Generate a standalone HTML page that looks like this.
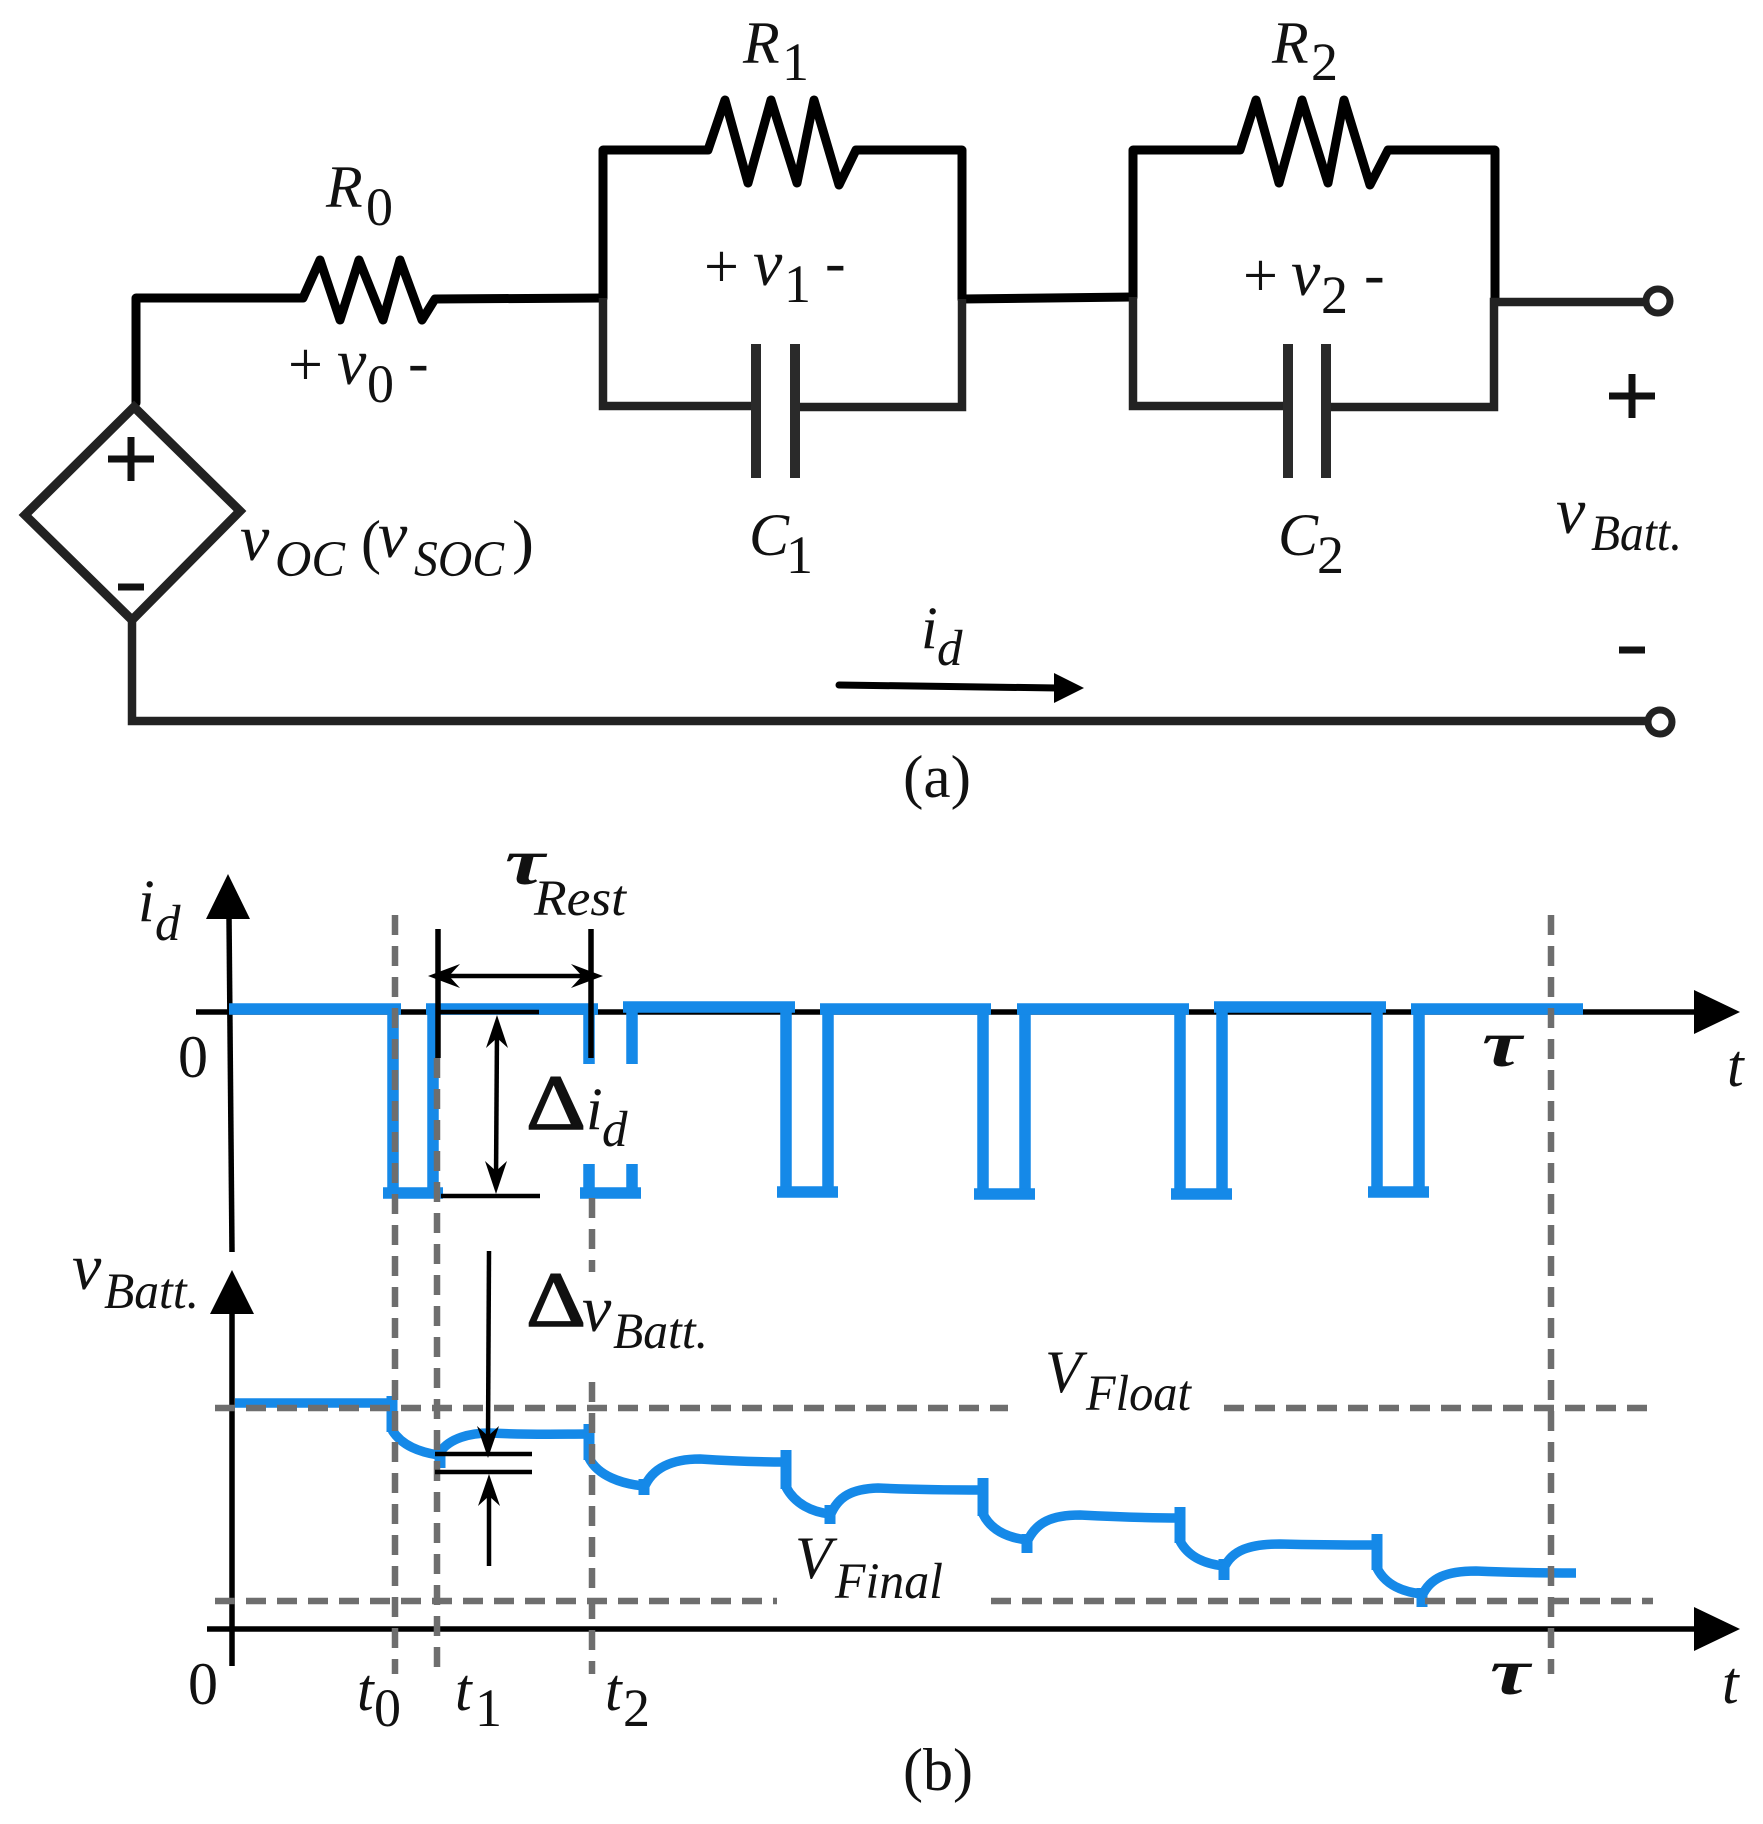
<!DOCTYPE html>
<html>
<head>
<meta charset="utf-8">
<style>
html,body{margin:0;padding:0;background:#fff}
svg{display:block}
text{font-family:"Liberation Serif",serif;fill:#111}
.i{font-style:italic}
.b{font-size:60px}
.vv{font-size:66px}
.p{font-size:62px}
.s{font-size:51px}
.n{font-size:54px}
.w{fill:none;stroke:#000;stroke-width:9;stroke-linejoin:round;stroke-linecap:round}
.d{fill:none;stroke:#222;stroke-width:8.5}
.blue{fill:none;stroke:#1589e8;stroke-width:11.5}
.v{fill:none;stroke:#1589e8;stroke-width:9.5}
.dash{fill:none;stroke:#6e6e6e;stroke-width:6.5;stroke-dasharray:20 11}
.k{fill:none;stroke:#000;stroke-width:5.5}
.t{fill:none;stroke:#000;stroke-width:4.5}
.D{font-size:78px;stroke:#111;stroke-width:1.5}
</style>
</head>
<body>
<svg width="1763" height="1824" viewBox="0 0 1763 1824" xmlns="http://www.w3.org/2000/svg">
<rect width="1763" height="1824" fill="#fff"/>

<!-- Circuit (a) -->
<polyline class="w" points="136,403 136,298 303,298 320,260 340,320 359,260 383,320 400,260 422,320 435,299 603,298"/>
<polyline class="w" points="603,298 603,150 708,150 725,100 748,183 771,100 797,183 814,100 839,185 856,150 962,150 962,299"/>
<polyline class="w" points="962,299 1133,297"/>
<polyline class="w" points="1133,297 1133,150 1240,150 1256,100 1279,183 1302,100 1328,183 1344,100 1370,185 1388,150 1495,150 1495,302"/>
<polyline class="d" points="603,298 603,406 752,406"/>
<polyline class="d" points="800,407 962,407 962,299"/>
<polyline class="d" points="1133,297 1133,406 1284,406"/>
<polyline class="d" points="1330,407 1494,407 1494,302 1646,302"/>
<g stroke="#2a2a2a" stroke-width="10" fill="none">
<line x1="756" y1="344" x2="756" y2="478"/>
<line x1="795" y1="344" x2="795" y2="478"/>
<line x1="1288" y1="344" x2="1288" y2="478"/>
<line x1="1326" y1="344" x2="1326" y2="478"/>
</g>
<circle cx="1658" cy="301" r="12" fill="#fff" stroke="#222" stroke-width="7"/>
<circle cx="1660" cy="722" r="12" fill="#fff" stroke="#222" stroke-width="7"/>
<polygon points="134,407 240,511 132,620 25,515" fill="none" stroke="#222" stroke-width="9"/>
<polyline class="d" points="132,620 132,721 1648,721"/>
<g stroke="#111" stroke-width="7" fill="none">
<line x1="108" y1="459" x2="154" y2="459"/>
<line x1="131" y1="437" x2="131" y2="481"/>
<line x1="118" y1="587" x2="144" y2="587"/>
<line x1="1609" y1="396" x2="1655" y2="396"/>
<line x1="1632" y1="374" x2="1632" y2="418"/>
<line x1="1619" y1="650" x2="1645" y2="650"/>
</g>
<line x1="839" y1="685" x2="1058" y2="688" stroke="#000" stroke-width="7" stroke-linecap="round"/>
<polygon points="1054,673 1084,688 1054,703" fill="#000"/>

<text class="i b" x="326" y="207">R</text><text class="n" x="366" y="225">0</text>
<text class="i b" x="743" y="63">R</text><text class="n" x="782" y="80">1</text>
<text class="i b" x="1272" y="63">R</text><text class="n" x="1311" y="80">2</text>

<text class="p" x="288" y="385">+</text><text class="i vv" x="337" y="384">v</text><text class="n" x="367" y="402">0</text><text class="p" x="408" y="383">-</text>
<text class="p" x="704" y="287">+</text><text class="i vv" x="753" y="285">v</text><text class="n" x="784" y="302">1</text><text class="p" x="825" y="283">-</text>
<text class="p" x="1243" y="296">+</text><text class="i vv" x="1291" y="295">v</text><text class="n" x="1321" y="313">2</text><text class="p" x="1364" y="295">-</text>

<text class="i b" x="749" y="555">C</text><text class="n" x="786" y="573">1</text>
<text class="i b" x="1278" y="555">C</text><text class="n" x="1317" y="573">2</text>

<text class="i vv" x="240" y="560">v</text><text class="i s" x="275" y="576" textLength="70" lengthAdjust="spacingAndGlyphs">OC</text>
<text class="b" x="361" y="562">(</text><text class="i vv" x="378" y="557">v</text><text class="i s" x="414" y="576" textLength="90" lengthAdjust="spacingAndGlyphs">SOC</text><text class="b" x="512" y="562" textLength="22" lengthAdjust="spacingAndGlyphs">)</text>

<text class="i vv" x="1556" y="533">v</text><text class="i s" x="1591" y="550" textLength="91" lengthAdjust="spacingAndGlyphs">Batt.</text>
<text class="i b" x="921" y="648">i</text><text class="i s" x="937" y="665">d</text>
<text class="b" x="903" y="797" textLength="68" lengthAdjust="spacingAndGlyphs">(a)</text>

<!-- Axes (b) -->
<polyline class="k" points="229,916 232,1252"/>
<polygon points="228,874 206,919 250,919" fill="#000"/>
<line class="k" x1="196" y1="1012" x2="1700" y2="1012"/>
<polygon points="1740,1012 1694,990 1694,1034" fill="#000"/>
<line class="k" x1="232" y1="1313" x2="232" y2="1666"/>
<polygon points="232,1270 210,1314 254,1314" fill="#000"/>
<line class="k" x1="207" y1="1629" x2="1700" y2="1629"/>
<polygon points="1740,1629 1694,1607 1694,1651" fill="#000"/>

<!-- Current waveform -->
<g class="blue">
<line x1="229" y1="1009" x2="401" y2="1009"/>
<line x1="393" y1="1009" x2="393" y2="1193"/>
<line x1="383" y1="1193" x2="443" y2="1193"/>
<line x1="433" y1="1009" x2="433" y2="1193"/>
<line x1="426" y1="1009" x2="598" y2="1009"/>
<line x1="589" y1="1009" x2="589" y2="1064"/>
<line x1="589" y1="1164" x2="589" y2="1193"/>
<line x1="580" y1="1193" x2="641" y2="1193"/>
<line x1="632" y1="1007" x2="632" y2="1064"/>
<line x1="632" y1="1164" x2="632" y2="1193"/>
<line x1="623" y1="1007" x2="795" y2="1007"/>
<line x1="786" y1="1007" x2="786" y2="1192"/>
<line x1="828" y1="1009" x2="828" y2="1192"/>
<line x1="777" y1="1192" x2="838" y2="1192"/>
<line x1="820" y1="1009" x2="991" y2="1009"/>
<line x1="983" y1="1009" x2="983" y2="1194"/>
<line x1="1025" y1="1009" x2="1025" y2="1194"/>
<line x1="974" y1="1194" x2="1035" y2="1194"/>
<line x1="1017" y1="1009" x2="1189" y2="1009"/>
<line x1="1180" y1="1009" x2="1180" y2="1194"/>
<line x1="1222" y1="1007" x2="1222" y2="1194"/>
<line x1="1171" y1="1194" x2="1232" y2="1194"/>
<line x1="1214" y1="1007" x2="1386" y2="1007"/>
<line x1="1377" y1="1007" x2="1377" y2="1192"/>
<line x1="1419" y1="1009" x2="1419" y2="1192"/>
<line x1="1368" y1="1192" x2="1429" y2="1192"/>
<line x1="1411" y1="1009" x2="1583" y2="1009"/>
</g>

<!-- Voltage waveform -->
<g class="v">
<line x1="235" y1="1403" x2="392" y2="1403"/>
<line stroke-width="11" x1="392" y1="1396" x2="392" y2="1432"/>
<path d="M392,1430 C402,1446 420,1452 438,1455"/>
<line x1="440" y1="1450" x2="440" y2="1468" stroke-width="11"/>
<path d="M440,1452 C450,1438 470,1433 490,1433 C530,1435 560,1434 589,1434"/>
<line stroke-width="11" x1="589" y1="1424" x2="589" y2="1460"/>
<path d="M589,1458 C598,1476 622,1484 644,1486"/>
<line stroke-width="11" x1="644" y1="1479" x2="644" y2="1495"/>
<path d="M644,1488 C652,1468 672,1459 700,1459 C730,1461 760,1462 786,1462"/>
<line stroke-width="11" x1="786" y1="1450" x2="786" y2="1489"/>
<path d="M786,1487 C795,1504 812,1512 830,1514"/>
<line stroke-width="11" x1="830" y1="1505" x2="830" y2="1524"/>
<path d="M830,1516 C838,1496 852,1489 878,1488 C920,1490 950,1490 983,1490"/>
<line stroke-width="11" x1="983" y1="1478" x2="983" y2="1516"/>
<path d="M983,1514 C992,1532 1010,1538 1027,1540"/>
<line stroke-width="11" x1="1027" y1="1534" x2="1027" y2="1553"/>
<path d="M1027,1542 C1036,1522 1052,1515 1080,1515 C1120,1517 1150,1518 1180,1518"/>
<line stroke-width="11" x1="1180" y1="1507" x2="1180" y2="1543"/>
<path d="M1180,1541 C1189,1558 1206,1564 1224,1566"/>
<line stroke-width="11" x1="1224" y1="1559" x2="1224" y2="1580"/>
<path d="M1224,1568 C1232,1550 1250,1544 1280,1544 C1320,1545 1350,1545 1377,1545"/>
<line stroke-width="11" x1="1377" y1="1534" x2="1377" y2="1570"/>
<path d="M1377,1568 C1386,1586 1404,1592 1422,1594"/>
<line stroke-width="11" x1="1422" y1="1588" x2="1422" y2="1607"/>
<path d="M1422,1596 C1430,1578 1446,1571 1476,1571 C1520,1573 1550,1573 1576,1573"/>
</g>

<!-- Dashed guides -->
<line class="dash" x1="395" y1="915" x2="395" y2="1674"/>
<line class="dash" x1="437" y1="1058" x2="437" y2="1674"/>
<line class="dash" x1="592" y1="1198" x2="592" y2="1272"/>
<line class="dash" x1="592" y1="1382" x2="592" y2="1674"/>
<line class="dash" x1="1551" y1="915" x2="1551" y2="1674"/>
<line class="dash" x1="215" y1="1408" x2="1008" y2="1408"/>
<line class="dash" x1="1224" y1="1408" x2="1653" y2="1408"/>
<line class="dash" x1="215" y1="1601" x2="777" y2="1601"/>
<line class="dash" x1="991" y1="1601" x2="1653" y2="1601"/>

<!-- Dimensions -->
<line class="k" x1="438" y1="929" x2="438" y2="1058"/>
<line class="k" x1="591" y1="929" x2="591" y2="1058"/>
<line class="t" x1="440" y1="976" x2="590" y2="976"/>
<polygon points="428,976 460,964 449,976 460,988" fill="#000"/>
<polygon points="603,976 571,964 582,976 571,988" fill="#000"/>
<line class="t" x1="438" y1="1012" x2="539" y2="1012"/>
<line class="t" x1="441" y1="1196" x2="540" y2="1196"/>
<line class="t" x1="497" y1="1030" x2="496" y2="1180"/>
<polygon points="497,1015 486,1048 497,1038 508,1048" fill="#000"/>
<polygon points="496,1194 485,1161 496,1171 507,1161" fill="#000"/>
<line class="t" x1="489" y1="1251" x2="488" y2="1440"/>
<polygon points="488,1458 477,1426 488,1436 499,1426" fill="#000"/>
<line class="t" x1="489" y1="1490" x2="489" y2="1566" stroke-width="5"/>
<polygon points="489,1474 478,1506 489,1496 500,1506" fill="#000"/>
<line class="t" x1="435" y1="1454" x2="532" y2="1454"/>
<line class="t" x1="435" y1="1472" x2="532" y2="1472"/>

<!-- Labels (b) -->
<text class="i b" x="138" y="921">i</text><text class="i s" x="155" y="940">d</text>
<text class="b" x="178" y="1077">0</text>
<text class="b" x="188" y="1704">0</text>
<text class="i" style="font-size:66px;font-weight:bold" x="505" y="884" textLength="40" lengthAdjust="spacingAndGlyphs">τ</text>
<text class="i s" x="534" y="915" textLength="92" lengthAdjust="spacingAndGlyphs">Rest</text>
<text class="D" x="526" y="1129" textLength="60" lengthAdjust="spacingAndGlyphs">Δ</text>
<text class="i b" x="586" y="1129">i</text><text class="i s" x="602" y="1146">d</text>
<text class="D" x="526" y="1326" textLength="60" lengthAdjust="spacingAndGlyphs">Δ</text>
<text class="i vv" x="582" y="1331">v</text><text class="i s" x="613" y="1348" textLength="95" lengthAdjust="spacingAndGlyphs">Batt.</text>
<text class="i vv" x="72" y="1289">v</text><text class="i s" x="104" y="1308" textLength="95" lengthAdjust="spacingAndGlyphs">Batt.</text>
<text class="i b" x="1045" y="1392">V</text><text class="i s" x="1086" y="1410" textLength="105" lengthAdjust="spacingAndGlyphs">Float</text>
<text class="i b" x="795" y="1578">V</text><text class="i s" x="835" y="1598" textLength="108" lengthAdjust="spacingAndGlyphs">Final</text>
<text class="i b" x="357" y="1710">t</text><text class="n" x="374" y="1726">0</text>
<text class="i b" x="455" y="1710">t</text><text class="n" x="475" y="1726">1</text>
<text class="i b" x="605" y="1710">t</text><text class="n" x="623" y="1726">2</text>
<text class="i" style="font-size:66px;font-weight:bold" x="1482" y="1066" textLength="40" lengthAdjust="spacingAndGlyphs">τ</text>
<text class="i" style="font-size:66px;font-weight:bold" x="1490" y="1694" textLength="40" lengthAdjust="spacingAndGlyphs">τ</text>
<text class="i b" x="1727" y="1086">t</text>
<text class="i b" x="1722" y="1703">t</text>
<text class="b" x="903" y="1790" textLength="70" lengthAdjust="spacingAndGlyphs">(b)</text>
</svg>
</body>
</html>
